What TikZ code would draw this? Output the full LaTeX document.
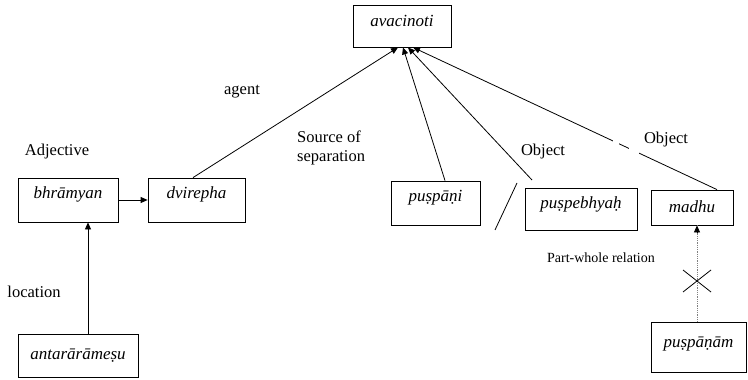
\documentclass[tikz,border=0pt]{standalone}
\usepackage{fontspec}
\setmainfont{Liberation Serif}
\usetikzlibrary{arrows.meta}
\tikzset{
  wbox/.style={draw, line width=0.8pt, inner sep=0pt, font=\fontsize{17}{20}\selectfont\itshape},
  tup/.style={text height=12pt, text depth=#1},
  lbl/.style={inner sep=0pt, font=\fontsize{16.5}{19}\selectfont},
  arr/.style={line width=0.8pt, -{Triangle[length=7pt,width=6pt]}},
  plain/.style={line width=0.8pt},
  dots/.style={line width=0.8pt, gray, densely dotted}
}
\begin{document}
\begin{tikzpicture}[x=1pt,y=-1pt]
\useasboundingbox (0,0) rectangle (748,380);
% boxes
\node[wbox, tup=10pt, minimum width=98pt, minimum height=42pt] (avac) at (402,26) {avacinoti};
\node[wbox, tup=16pt, minimum width=100pt, minimum height=44pt] (bhram) at (68,200) {bhrāmyan};
\node[wbox, tup=16pt, minimum width=97pt, minimum height=44pt] (dvir) at (196.5,200) {dvirepha};
\node[wbox, tup=4pt, minimum width=120pt, minimum height=43pt] (antar) at (78,355.5) {antarārāmeṣu};
\node[wbox, tup=16pt, minimum width=89pt, minimum height=44pt] (pani) at (435.5,203) {puṣpāṇi};
\node[wbox, tup=14pt, minimum width=112pt, minimum height=42pt] (peb) at (581,209) {puṣpebhyaḥ};
\node[wbox, tup=3pt, minimum width=82pt, minimum height=35pt] (madhu) at (692,207.5) {madhu};
\node[wbox, tup=12pt, minimum width=95pt, minimum height=50pt] (panam) at (698.5,347) {puṣpāṇām};
% labels
\node[lbl] (lagent) at (242,92) {agent};
\node[lbl] (ladj) at (57,152) {Adjective};
\node[lbl, align=left, anchor=north west] (lsrc) at (297,131) {Source of\\separation};
\node[lbl] (lobj1) at (543,152) {Object};
\node[lbl] (lobj2) at (666,140) {Object};
\node[lbl] (lloc) at (34,292) {location};
\node[lbl, font=\fontsize{14}{16}\selectfont, anchor=east] (lpw) at (655,258) {Part-whole relation};
% connectors
\coordinate (pebend) at (532,180);
\draw[arr] (bhram.east) -- (dvir.west);
\draw[arr] ([xshift=10pt]antar.north) -- ([xshift=20pt]bhram.south);
\draw[arr] ([xshift=-3.5pt]dvir.north) -- ([xshift=-4pt]avac.south);
\draw[arr] ([xshift=9.5pt]pani.north) -- ([xshift=1pt]avac.south);
\draw[arr] (pebend) -- ([xshift=6pt]avac.south);
\draw[arr] ([xshift=25pt]madhu.north) -- ([xshift=11pt]avac.south);
\fill[white] (613,136) rectangle (619,152);
\fill[white] (629,140) rectangle (639,158);
\draw[dots] ([xshift=-1.5pt]panam.north) -- ([xshift=5pt]madhu.south);
\draw[arr] ([xshift=5pt,yshift=-8pt]madhu.south) -- ([xshift=5pt]madhu.south);
% slash and cross
\draw[plain] (517,183) -- (495,230);
\draw[plain] (683,270) -- (711,292);
\draw[plain] (683,292) -- (711,270);
\end{tikzpicture}
\end{document}
